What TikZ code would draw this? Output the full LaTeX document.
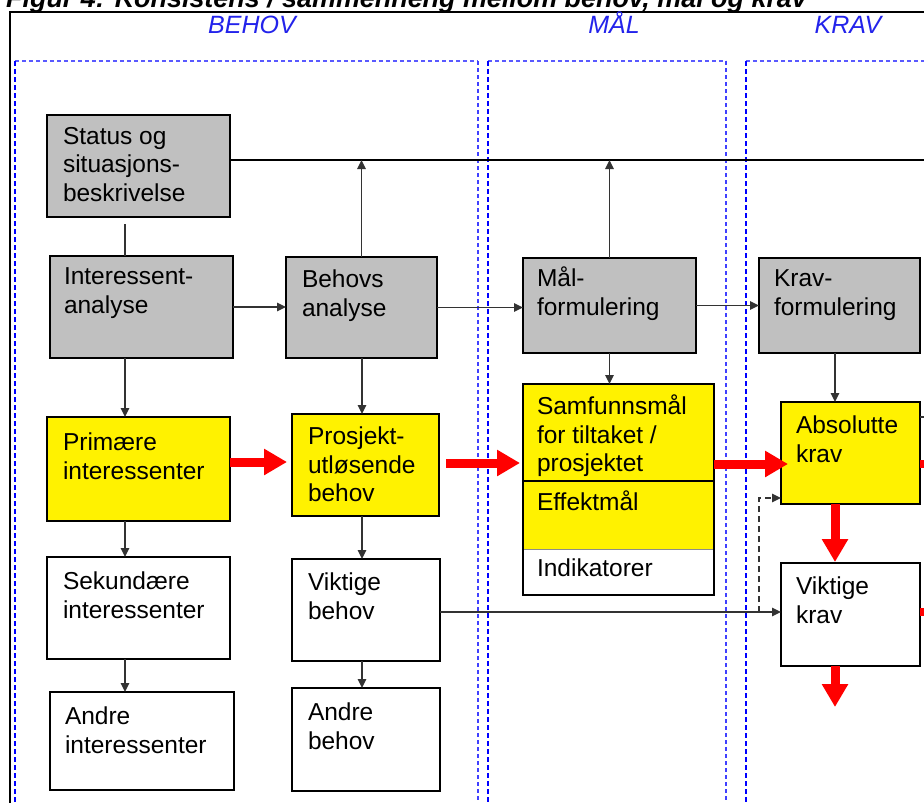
\documentclass[tikz,border=0pt]{standalone}
\usepackage{fontspec}
\setmainfont{Liberation Sans}
\usetikzlibrary{arrows.meta,calc}
\definecolor{boxgray}{RGB}{192,192,192}
\definecolor{lblue}{RGB}{35,35,235}
\begin{document}
\begin{tikzpicture}[x=1pt,y=-1pt,
  box/.style={draw=black, line width=1.3pt, anchor=north west, inner sep=0pt, outer sep=0pt},
  graybox/.style={box, fill=boxgray},
  yellowbox/.style={box, fill=yellow},
  whitebox/.style={box, fill=white},
  txt/.style={anchor=north west, inner sep=0pt, outer sep=0pt, align=left, font=\fontsize{24.5}{28.5}\selectfont},
  conn/.style={draw=black!80, line width=1.4pt},
  arr/.style={conn, -{Triangle[length=9pt,width=8.5pt]}},
  dashconn/.style={arr, dash pattern=on 6pt off 4pt},
  redarr/.style={draw=red, line width=9pt, -{Triangle[length=23pt,width=25pt]}},
  redline/.style={draw=red, line width=8pt},
  lbl/.style={anchor=base, inner sep=0pt, text=lblue, font=\itshape\fontsize{25}{30}\selectfont},
  coltop/.style={draw=blue!65, line width=1.2pt, dash pattern=on 4pt off 3pt},
  colleft/.style={draw=blue, line width=1.4pt, dash pattern=on 5pt off 3pt},
  colright/.style={draw=blue!75, line width=1.1pt, dash pattern=on 4pt off 3pt},
]
\useasboundingbox (0,0) rectangle (924,803);
\clip (0,0) rectangle (924,803);
\fill[white] (0,0) rectangle (924,803);

% title (cut off at top, as in the reference)
\node[anchor=base west, inner sep=0pt, font=\bfseries\itshape\fontsize{26.9}{32}\selectfont] (title) at (6,8) {Figur 4: Konsistens / sammenheng mellom behov, mål og krav};

% outer frame
\draw[line width=2pt] (10,1000) -- (10,12) -- (1000,12);

% column labels
\node[lbl] (lbehov) at (252,33) {BEHOV};
\node[lbl] (lmal) at (614,33) {MÅL};
\node[lbl] (lkrav) at (848,33) {KRAV};

% column frames
\draw[coltop] (15,61) -- (478,61);
\draw[colleft] (15,61) -- (15,820);
\draw[colright] (478,61) -- (478,820);
\draw[coltop] (488,61) -- (726,61);
\draw[colleft] (488,61) -- (488,820);
\draw[colright] (726,61) -- (726,820);
\draw[coltop] (746,61) -- (940,61);
\draw[colleft] (746,61) -- (746,820);

% gray boxes
\node[graybox, minimum width=183pt, minimum height=102pt] (status) at (47,115) {};
\node[graybox, minimum width=183pt, minimum height=102pt] (inter) at (50,256) {};
\node[graybox, minimum width=151pt, minimum height=101pt] (behovs) at (286,257) {};
\node[graybox, minimum width=173pt, minimum height=95pt] (maal) at (523,258) {};
\node[graybox, minimum width=161pt, minimum height=95pt] (krav) at (759,258) {};

% yellow boxes
\node[yellowbox, minimum width=183pt, minimum height=104pt] (prim) at (47,417) {};
\node[yellowbox, minimum width=147pt, minimum height=102pt] (prosj) at (292,414) {};
\node[anchor=north west, inner sep=0pt, outer sep=0pt, fill=yellow, minimum width=191pt, minimum height=97pt] (samf) at (523,384) {};
\node[anchor=north west, inner sep=0pt, outer sep=0pt, fill=yellow, minimum width=191pt, minimum height=68pt] (effekt) at (523,481) {};
\node[anchor=north west, inner sep=0pt, outer sep=0pt, fill=white, minimum width=191pt, minimum height=46pt] (indik) at (523,549) {};
\draw[black!45, line width=0.8pt] (effekt.south west) -- (effekt.south east);
\draw[black, line width=1.3pt] (samf.south west) -- (samf.south east);
\draw[black, line width=1.3pt] (samf.north west) rectangle (indik.south east);
\node[yellowbox, minimum width=139pt, minimum height=102pt] (abs) at (781,402) {};

% white boxes
\node[whitebox, minimum width=183pt, minimum height=102pt] (sek) at (47,557) {};
\node[whitebox, minimum width=148pt, minimum height=102pt] (vikB) at (292,559) {};
\node[whitebox, minimum width=184pt, minimum height=98pt] (andreI) at (50,692) {};
\node[whitebox, minimum width=148pt, minimum height=103pt] (andreB) at (292,688) {};
\node[whitebox, minimum width=139pt, minimum height=103pt] (vikK) at (781,563) {};

% texts
\node[txt] (status-t) at (63,127) {Status og\\situasjons-\\beskrivelse};
\node[txt] (inter-t) at (64,268) {Interessent-\\analyse};
\node[txt] (behovs-t) at (302,270) {Behovs\\analyse};
\node[txt] (maal-t) at (537,267) {Mål-\\formulering};
\node[txt] (krav-t) at (774,270) {Krav-\\formulering};
\node[txt] (prim-t) at (63,433) {Primære\\interessenter};
\node[txt] (prosj-t) at (308,427) {Prosjekt-\\utløsende\\behov};
\node[txt] (samf-t) at (537,395) {Samfunnsmål\\for tiltaket /\\prosjektet};
\node[txt] (effekt-t) at (537,491) {Effektmål};
\node[txt] (indik-t) at (537,559) {Indikatorer};
\node[txt] (abs-t) at (796,416) {Absolutte\\krav};
\node[txt] (sek-t) at (63,572) {Sekundære\\interessenter};
\node[txt] (vikB-t) at (308,573) {Viktige\\behov};
\node[txt] (andreI-t) at (65,707) {Andre\\interessenter};
\node[txt] (andreB-t) at (308,703) {Andre\\behov};
\node[txt] (vikK-t) at (796,577) {Viktige\\krav};

% top line from status
\coordinate (topend) at (940,160);
\draw[black, line width=1.8pt] ($(status.east)+(0,-6)$) -- (topend);
\draw[arr] (behovs.north) -- (behovs.north |- topend);
\draw[arr] (maal.north) -- (maal.north |- topend);

% thin connectors
\draw[conn] ($(status.south)+(-13.5,7)$) -- ($(inter.north)+(-16.5,0)$);
\draw[arr] ($(inter.south)+(-16.5,0)$) -- ($(prim.north)+(-13.5,0)$);
\draw[arr] ($(prim.south)+(-13.5,0)$) -- ($(sek.north)+(-13.5,0)$);
\draw[arr] ($(sek.south)+(-13.5,0)$) -- ($(andreI.north)+(-17,0)$);
\draw[arr] ($(behovs.south)+(0.5,0)$) -- ($(prosj.north)+(-3.5,0)$);
\draw[arr] ($(prosj.south)+(-3.5,0)$) -- ($(vikB.north)+(-4,0)$);
\draw[arr] ($(vikB.south)+(-4,0)$) -- ($(andreB.north)+(-4,0)$);
\draw[arr] (inter.east) -- (inter.east -| behovs.west);
\draw[arr] (behovs.east) -- (behovs.east -| maal.west);
\draw[arr] (maal.east) -- (maal.east -| krav.west);
\draw[arr] (maal.south) -- (maal.south |- samf.north);
\draw[arr] ($(krav.south)+(-4.5,0)$) -- ($(abs.north)+(-15.5,0)$);
\draw[arr] ($(vikB.east)+(0,2)$) -- ($(vikK.west)+(0,-2.5)$);
\draw[dashconn] ($(vikK.west)+(-22,-2.5)$) |- ($(abs.south west)+(0,-6)$);

% red arrows
\draw[redarr] ($(prim.east)+(0,-7)$) -- ($(prosj.west)+(-5,-3)$);
\draw[redarr] ($(prosj.east)+(7,-2)$) -- ($(samf.west)+(-3,30.5)$);
\draw[redarr] ($(samf.east)+(0,31.5)$) -- ($(abs.west)+(7,11)$);
\draw[redarr] ($(abs.south)+(-15.5,0)$) -- ($(vikK.north)+(-15.5,-1)$);
\coordinate (kravout) at (835,707);
\draw[redarr] ($(vikK.south)+(-15.5,0)$) -- (kravout);
\coordinate (absout) at (940,464);
\draw[redline] ($(abs.east)+(0,11)$) -- (absout);
\coordinate (vikKout) at (940,612);
\draw[redline] ($(vikK.east)+(0,-2.5)$) -- (vikKout);
\coordinate (absblack) at (940,417);
\draw[conn] ($(abs.east)+(0,-36)$) -- (absblack);
\end{tikzpicture}
\end{document}
